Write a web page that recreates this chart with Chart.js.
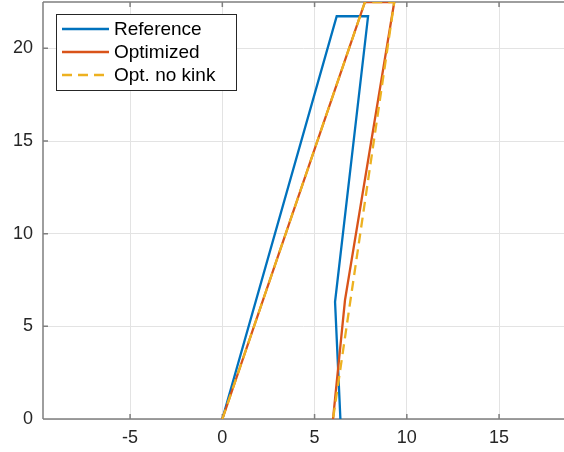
<!DOCTYPE html>
<html>
<head>
<meta charset="utf-8">
<script src="https://cdn.jsdelivr.net/npm/chart.js@4/dist/chart.umd.min.js"></script>
<style>
  html, body { margin: 0; padding: 0; background: #ffffff; overflow: hidden; }
  #wrap { width: 564px; height: 452px; }
</style>
</head>
<body>
<div id="wrap"><canvas id="c" width="564" height="452"></canvas></div>
<script>
// Cross-section outlines (x, y pairs)
const referenceX = [0, 6.2, 7.9, 6.11, 6.4];
const referenceY = [0, 21.73, 21.73, 6.32, 0];
const optimizedX = [0, 7.73, 9.32, 6.65, 6.0];
const optimizedY = [0, 22.5, 22.5, 6.42, 0];
const noKinkX = [0, 7.73, 9.32, 6.0];
const noKinkY = [0, 22.5, 22.5, 0];

const seriesLabels = ['Reference', 'Optimized', 'Opt. no kink'];

// Axis ticks and limits
const xTicks = [-5, 0, 5, 10, 15];
const yTicks = [0, 5, 10, 15, 20];
const xLimits = [-9.72, 18.52];
const yLimits = [0, 22.5];

const FONT = '"Liberation Sans", Arial, Helvetica, sans-serif';

function toPoints(xs, ys) {
  return xs.map((x, i) => ({ x: x, y: ys[i] }));
}

// Box outline with inward-pointing tick marks
const axesBox = {
  id: 'axesBox',
  beforeDatasetsDraw(chart) {
    const { ctx, chartArea: a, scales } = chart;
    ctx.save();
    ctx.strokeStyle = '#7f7f7f';
    ctx.lineWidth = 1.5;
    ctx.beginPath();
    ctx.moveTo(a.left, a.top); ctx.lineTo(a.right + 2, a.top);
    ctx.moveTo(a.left, a.top); ctx.lineTo(a.left, a.bottom);
    ctx.moveTo(a.left, a.bottom); ctx.lineTo(a.right + 2, a.bottom);
    const len = 5;
    xTicks.forEach(v => {
      const px = scales.x.getPixelForValue(v);
      ctx.moveTo(px, a.bottom); ctx.lineTo(px, a.bottom - len);
      ctx.moveTo(px, a.top); ctx.lineTo(px, a.top + len);
    });
    yTicks.forEach(v => {
      const py = scales.y.getPixelForValue(v);
      ctx.moveTo(a.left, py); ctx.lineTo(a.left + len, py);
    });
    ctx.stroke();
    ctx.restore();
  }
};

// Boxed legend in the upper-left corner of the plot
const boxLegend = {
  id: 'boxLegend',
  afterDatasetsDraw(chart) {
    const { ctx } = chart;
    const x0 = 56.5, y0 = 14.5, w = 180, h = 76;
    ctx.save();
    ctx.fillStyle = '#ffffff';
    ctx.fillRect(x0, y0, w, h);
    ctx.strokeStyle = '#262626';
    ctx.lineWidth = 1;
    ctx.strokeRect(x0, y0, w, h);
    ctx.font = '19px ' + FONT;
    ctx.textBaseline = 'middle';
    ctx.textAlign = 'left';
    chart.data.datasets.forEach((ds, i) => {
      const y = 29 + i * 23;
      ctx.beginPath();
      ctx.strokeStyle = ds.borderColor;
      ctx.lineWidth = ds.borderWidth;
      ctx.setLineDash(ds.borderDash || []);
      ctx.moveTo(62, y); ctx.lineTo(109, y);
      ctx.stroke();
      ctx.setLineDash([]);
      ctx.fillStyle = '#000000';
      ctx.fillText(ds.label, 114, y + 1);
    });
    ctx.restore();
  }
};

new Chart(document.getElementById('c'), {
  type: 'scatter',
  data: {
    datasets: [
      {
        label: seriesLabels[0],
        data: toPoints(referenceX, referenceY),
        showLine: true, borderColor: '#0072BD', borderWidth: 2.3,
        pointRadius: 0, fill: false, tension: 0, order: 2
      },
      {
        label: seriesLabels[1],
        data: toPoints(optimizedX, optimizedY),
        showLine: true, borderColor: '#D95319', borderWidth: 2.3,
        pointRadius: 0, fill: false, tension: 0, order: 1
      },
      {
        label: seriesLabels[2],
        data: toPoints(noKinkX, noKinkY),
        showLine: true, borderColor: '#EDB120', borderWidth: 2.3,
        borderDash: [10, 6],
        pointRadius: 0, fill: false, tension: 0, order: 0
      }
    ]
  },
  options: {
    responsive: false,
    animation: false,
    layout: { padding: { top: 2, right: 0, bottom: 0, left: 0 }, autoPadding: false },
    plugins: { legend: { display: false }, tooltip: { enabled: false } },
    scales: {
      x: {
        type: 'linear',
        min: xLimits[0], max: xLimits[1],
        afterBuildTicks(scale) { scale.ticks = xTicks.map(v => ({ value: v })); },
        afterFit(scale) {
          scale.height = 33;
          scale.paddingLeft = 0; scale.paddingRight = 0;
          scale.paddingTop = 0; scale.paddingBottom = 0;
        },
        grid: { color: '#e3e3e3', lineWidth: 1, drawTicks: false },
        border: { display: false },
        ticks: {
          padding: 8, color: '#262626', maxRotation: 0,
          font: { family: FONT, size: 18 }
        }
      },
      y: {
        type: 'linear',
        min: yLimits[0], max: yLimits[1],
        afterBuildTicks(scale) { scale.ticks = yTicks.map(v => ({ value: v })); },
        afterFit(scale) {
          scale.width = 43;
          scale.paddingLeft = 0; scale.paddingRight = 0;
          scale.paddingTop = 0; scale.paddingBottom = 0;
        },
        grid: { color: '#e3e3e3', lineWidth: 1, drawTicks: false },
        border: { display: false },
        ticks: {
          padding: 10, color: '#262626',
          font: { family: FONT, size: 18 }
        }
      }
    }
  },
  plugins: [axesBox, boxLegend]
});
</script>
</body>
</html>
